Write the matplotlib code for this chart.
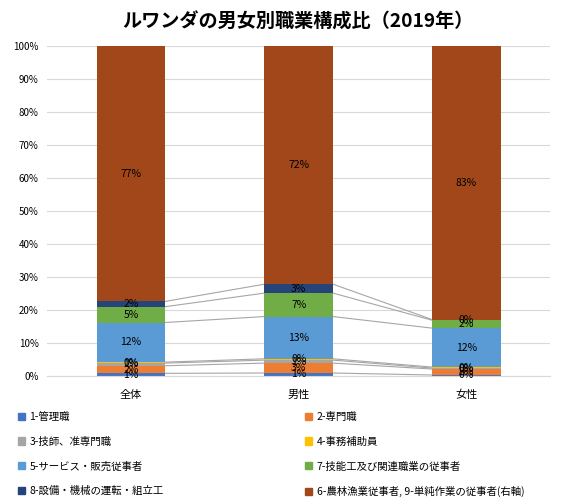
import numpy as np
import matplotlib
matplotlib.use('Agg')
import matplotlib.pyplot as plt
from matplotlib.patches import Patch

plt.rcParams['font.family'] = ['Noto Sans CJK JP', 'DejaVu Sans']

# data (shares in %)
groups = ['全体', '男性', '女性']
series_names = ['1-管理職', '2-専門職', '3-技師、准専門職', '4-事務補助員',
                '5-サービス・販売従事者', '7-技能工及び関連職業の従事者',
                '8-設備・機械の運転・組立工', '6-農林漁業従事者, 9-単純作業の従事者(右軸)']
s1 = [0.8, 0.9, 0.3]
s2 = [2.3, 3.0, 1.8]
s3 = [0.8, 0.9, 0.3]
s4 = [0.3, 0.4, 0.3]
s5 = [12.0, 12.8, 11.8]
s7 = [4.8, 7.1, 2.4]
s8 = [1.6, 2.7, 0.2]
s69 = [77.4, 72.2, 82.9]
colors = ['#4472C4', '#ED7D31', '#A5A5A5', '#FFC000',
          '#5B9BD5', '#70AD47', '#264478', '#A2471A']

values = [s1, s2, s3, s4, s5, s7, s8, s69]

fig = plt.figure(figsize=(5.63, 5.04), dpi=100)
ax = fig.add_axes([0.0835, 0.254, 0.894, 0.655])

x = np.arange(len(groups))
width = 0.41
bottom = np.zeros(len(groups))
tops = []
for vals, col in zip(values, colors):
    vals = np.array(vals)
    ax.bar(x, vals, width, bottom=bottom, color=col, zorder=2)
    for xi, b, v in zip(x, bottom, vals):
        ax.text(xi, b + v / 2, f'{v:.0f}%', ha='center', va='center',
                fontsize=7.5, color='black', zorder=4)
    bottom = bottom + vals
    tops.append(bottom.copy())

# series lines between bars
for t in tops[:-1]:
    for i in range(len(groups) - 1):
        ax.plot([x[i] + width / 2, x[i + 1] - width / 2], [t[i], t[i + 1]],
                color='#A6A6A6', lw=0.8, zorder=1)

ax.set_xlim(-0.5, 2.5)
ax.set_ylim(0, 100)
ax.set_yticks(np.arange(0, 101, 10))
ax.set_yticklabels([f'{v}%' for v in range(0, 101, 10)], fontsize=7)
ax.set_xticks(x)
ax.set_xticklabels(groups, fontsize=8)
ax.tick_params(axis='y', length=0, pad=6)
ax.tick_params(axis='x', length=0, pad=10)
ax.grid(True, axis='y', color='#D9D9D9', lw=0.8, zorder=0)
ax.set_axisbelow(True)
for sp in ['top', 'right', 'left']:
    ax.spines[sp].set_visible(False)
ax.spines['bottom'].set_color('#D9D9D9')

fig.suptitle('ルワンダの男女別職業構成比（2019年）', x=0.53, y=0.975,
             fontsize=13.8, fontweight='bold')

# legend in row order (two columns)
handles = [Patch(color=c) for c in colors]
order = [0, 2, 4, 6, 1, 3, 5, 7]
fig.legend([handles[i] for i in order], [series_names[i] for i in order],
           ncol=2, loc='lower left', bbox_to_anchor=(0.015, -0.005),
           frameon=False, fontsize=7.5, handlelength=0.7, handleheight=0.7,
           handletextpad=0.4, columnspacing=13.6, labelspacing=1.4)

fig.savefig('out.png', dpi=100)
